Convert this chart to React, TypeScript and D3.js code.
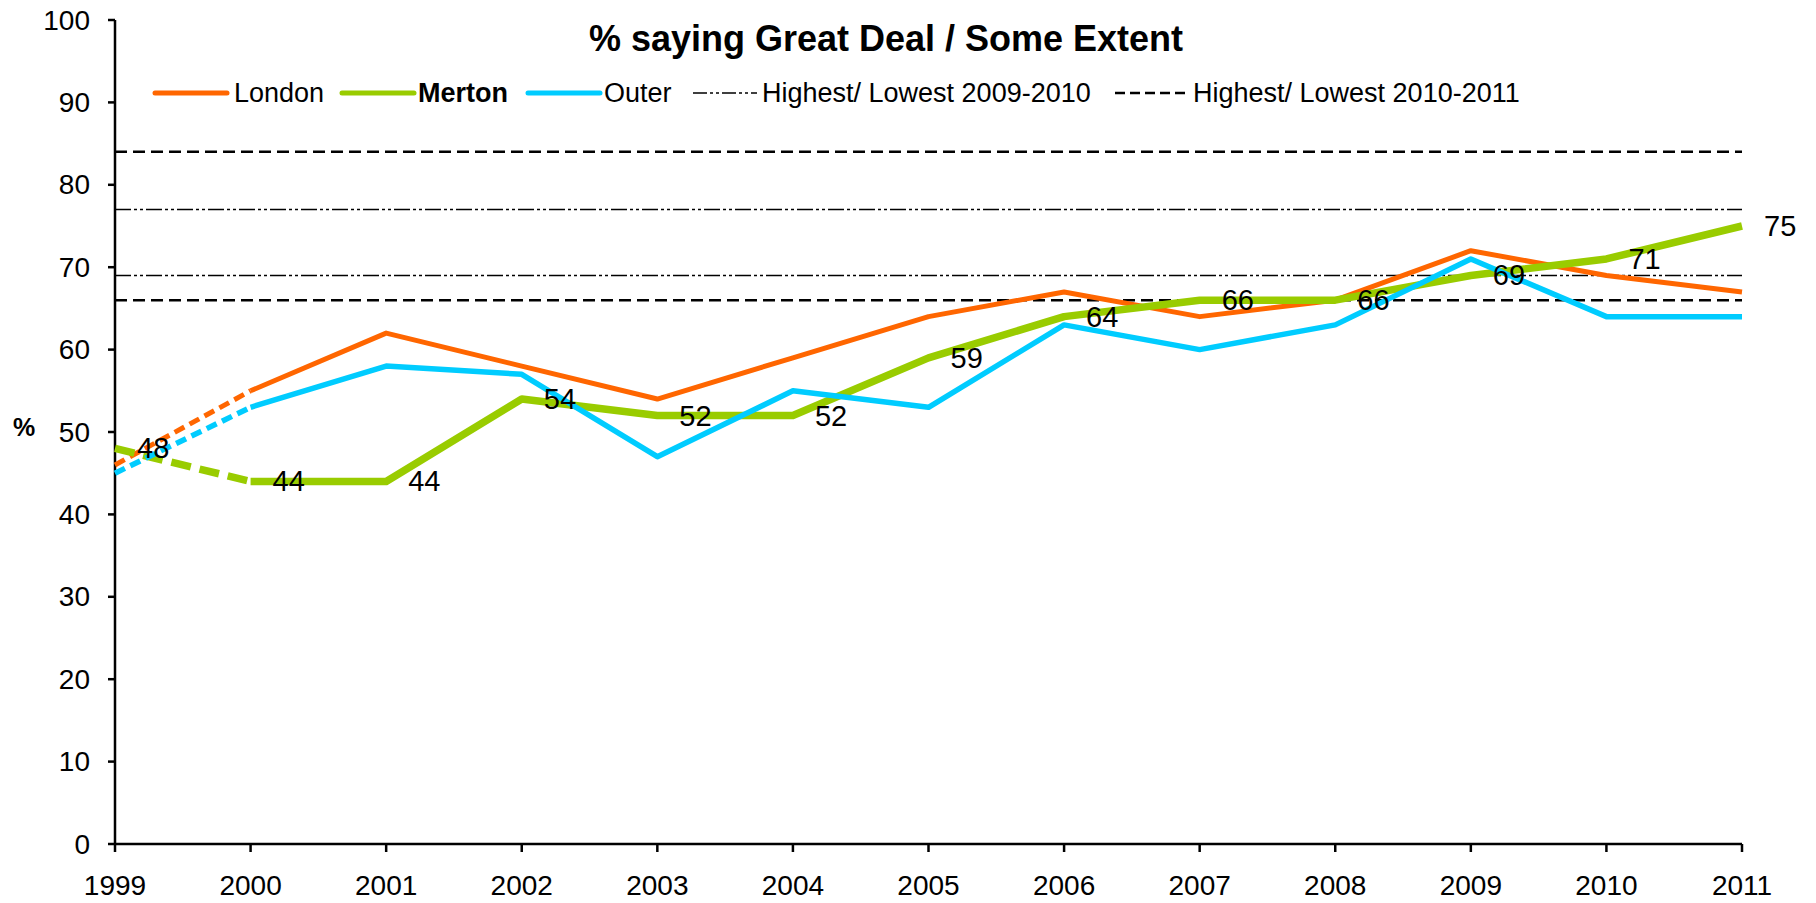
import React from "react";
import * as d3 from "d3";

const years = [1999, 2000, 2001, 2002, 2003, 2004, 2005, 2006, 2007, 2008, 2009, 2010, 2011];
const london = [46, 55, 62, 58, 54, 59, 64, 67, 64, 66, 72, 69, 67];
const merton = [48, 44, 44, 54, 52, 52, 59, 64, 66, 66, 69, 71, 75];
const outer = [45, 53, 58, 57, 47, 55, 53, 63, 60, 63, 71, 64, 64];
const yTicks = [0, 10, 20, 30, 40, 50, 60, 70, 80, 90, 100];
const range0910 = [77, 69];
const range1011 = [84, 66];
const title = "% saying Great Deal / Some Extent";

const W = 1816;
const H = 903;
const FONT = "Arial, 'Liberation Sans', sans-serif";

export default function App() {
  const x = d3.scaleLinear().domain([1999, 2011]).range([115, 1742]);
  const y = d3.scaleLinear().domain([0, 100]).range([844, 20]);
  const line = d3
    .line<[number, number]>()
    .x((d) => x(d[0]))
    .y((d) => y(d[1]));

  const series = [
    { name: "London", values: london, color: "#FF6600", width: 5, dash: "11,6" },
    { name: "Merton", values: merton, color: "#99CC00", width: 7.5, dash: "20,9" },
    { name: "Outer", values: outer, color: "#00CCFF", width: 5.5, dash: "11,6" },
  ];

  const pts = (v: number[]) => years.map((yr, i) => [yr, v[i]] as [number, number]);

  const legendY = 93;
  const legendItems = [
    { label: "London", x1: 155, x2: 227, tx: 234, color: "#FF6600", w: 5, dash: null, bold: false },
    { label: "Merton", x1: 342, x2: 414, tx: 418, color: "#99CC00", w: 5, dash: null, bold: true },
    { label: "Outer", x1: 528, x2: 600, tx: 604, color: "#00CCFF", w: 5, dash: null, bold: false },
    { label: "Highest/ Lowest 2009-2010", x1: 693, x2: 757, tx: 762, color: "#000", w: 1.5, dash: "14,3,3,3,3,3", bold: false },
    { label: "Highest/ Lowest 2010-2011", x1: 1115, x2: 1187, tx: 1193, color: "#000", w: 2.5, dash: "10,5", bold: false },
  ];

  return (
    <div style={{ position: "absolute", left: 0, top: 0 }}>
      <svg width={W} height={H} style={{ display: "block", background: "#fff" }} fontFamily={FONT}>
        {/* reference lines */}
        {range1011.map((v) => (
          <line key={"d" + v} x1={x(1999)} x2={x(2011)} y1={y(v)} y2={y(v)} stroke="#000" strokeWidth={2.5} strokeDasharray="12,6" />
        ))}
        {range0910.map((v) => (
          <line key={"dd" + v} x1={x(1999)} x2={x(2011)} y1={y(v)} y2={y(v)} stroke="#000" strokeWidth={1.5} strokeDasharray="16,3,3,3,3,3" />
        ))}

        {/* axes */}
        <line x1={x(1999)} x2={x(1999)} y1={y(100)} y2={y(0)} stroke="#000" strokeWidth={2.5} />
        <line x1={x(1999)} x2={x(2011)} y1={y(0)} y2={y(0)} stroke="#000" strokeWidth={2.5} />
        {yTicks.map((t) => (
          <g key={"yt" + t}>
            <line x1={108} x2={x(1999)} y1={y(t)} y2={y(t)} stroke="#000" strokeWidth={2.5} />
            <text x={90} y={y(t)} textAnchor="end" dominantBaseline="central" fontSize={28} fill="#000">
              {t}
            </text>
          </g>
        ))}
        {years.map((yr) => (
          <g key={"xt" + yr}>
            <line x1={x(yr)} x2={x(yr)} y1={y(0)} y2={852} stroke="#000" strokeWidth={2.5} />
            <text x={x(yr)} y={895} textAnchor="middle" fontSize={28} fill="#000">
              {yr}
            </text>
          </g>
        ))}
        <text x={24} y={427} textAnchor="middle" dominantBaseline="central" fontSize={25} fontWeight="bold">
          %
        </text>

        {/* series */}
        {series.map((s) => {
          const p = pts(s.values);
          return (
            <g key={s.name}>
              <path d={line(p.slice(0, 2)) || ""} fill="none" stroke={s.color} strokeWidth={s.width} strokeDasharray={s.dash} />
              <path d={line(p.slice(1)) || ""} fill="none" stroke={s.color} strokeWidth={s.width} strokeLinejoin="round" />
            </g>
          );
        })}

        {/* data labels (Merton) */}
        {merton.map((v, i) => (
          <text key={"lbl" + i} x={x(years[i]) + 22} y={y(v)} dominantBaseline="central" fontSize={29} fill="#000">
            {v}
          </text>
        ))}

        {/* title */}
        <text x={886} y={51} textAnchor="middle" fontSize={36} fontWeight="bold" fill="#000">
          {title}
        </text>

        {/* legend */}
        {legendItems.map((it) => (
          <g key={it.label}>
            <line
              x1={it.x1}
              x2={it.x2}
              y1={legendY}
              y2={legendY}
              stroke={it.color}
              strokeWidth={it.w}
              strokeLinecap={it.dash ? "butt" : "round"}
              strokeDasharray={it.dash || undefined}
            />
            <text x={it.tx} y={legendY} dominantBaseline="central" fontSize={27} fontWeight={it.bold ? "bold" : "normal"} fill="#000">
              {it.label}
            </text>
          </g>
        ))}
      </svg>
    </div>
  );
}
